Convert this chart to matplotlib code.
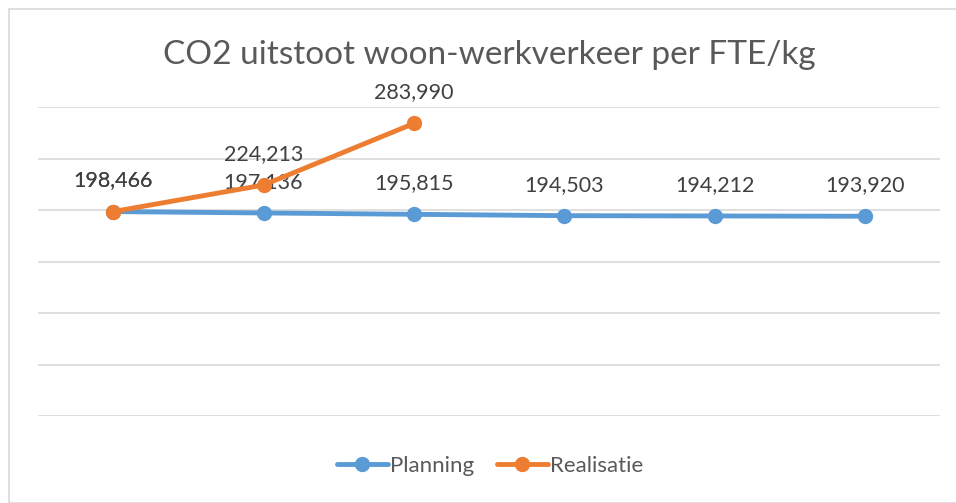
import matplotlib
matplotlib.use("Agg")
import matplotlib.pyplot as plt
from matplotlib.patches import Rectangle

categories = ["1", "2", "3", "4", "5", "6"]
planning = [198.466, 197.136, 195.815, 194.503, 194.212, 193.920]
realisatie = [198.466, 224.213, 283.990]
planning_labels = ["198,466", "197,136", "195,815", "194,503", "194,212", "193,920"]
realisatie_labels = ["198,466", "224,213", "283,990"]
title = "CO2 uitstoot woon-werkverkeer per FTE/kg"

plt.rcParams['font.family'] = ['Lato', 'DejaVu Sans']

W, H = 956, 503
fig = plt.figure(figsize=(W / 100, H / 100), dpi=100)
ax = fig.add_axes([38 / W, (H - 416) / H, (940 - 38) / W, (416 - 107) / H])

blue = "#5B9BD5"
orange = "#ED7D31"
x_p = list(range(len(planning)))
x_r = list(range(len(realisatie)))

ax.plot(x_p, planning, color=blue, lw=3.5, marker="o", ms=10, zorder=3,
        label="Planning", solid_capstyle="round")
for xi, yi, lab in zip(x_p, planning, planning_labels):
    ax.annotate(lab, (xi, yi), xytext=(0, 31), textcoords="offset pixels",
                ha="center", va="center", fontsize=15.5, color="#404040", zorder=4)
ax.plot(x_r, realisatie, color=orange, lw=3.5, marker="o", ms=10, zorder=5,
        label="Realisatie", solid_capstyle="round")
for xi, yi, lab in zip(x_r, realisatie, realisatie_labels):
    ax.annotate(lab, (xi, yi), xytext=(0, 31), textcoords="offset pixels",
                ha="center", va="center", fontsize=15.5, color="#404040", zorder=6)

ax.set_xlim(-0.5, len(categories) - 0.5)
ax.set_ylim(0, 300)
ax.set_yticks(range(0, 301, 50))
ax.yaxis.grid(True, color="#D9D9D9", lw=1.2)
ax.set_axisbelow(True)
ax.tick_params(left=False, bottom=False, labelleft=False, labelbottom=False)
for s in ax.spines.values():
    s.set_visible(False)

fig.text(489 / W, 1 - 55 / H, title, ha="center", va="center",
         fontsize=24, color="#595959")

leg = fig.legend(loc="center", bbox_to_anchor=(490 / W, 1 - 466 / H), ncol=2,
                 frameon=False, fontsize=16, handlelength=2.3,
                 columnspacing=1.0, handletextpad=0.1)
for t in leg.get_texts():
    t.set_color("#595959")

fig.patches.append(Rectangle((8.5 / W, 0), 1, 1 - 8.5 / H, transform=fig.transFigure,
                             fill=False, edgecolor="#D9D9D9", lw=1.2))

fig.savefig("out.png", dpi=100)
